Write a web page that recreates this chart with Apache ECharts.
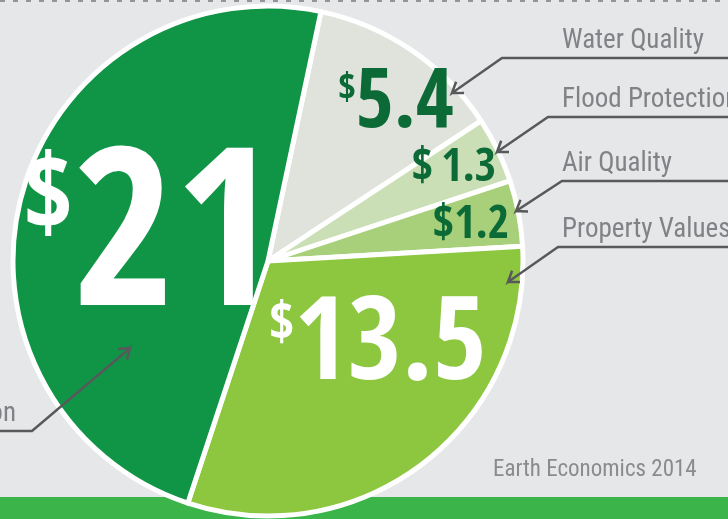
<!DOCTYPE html>
<html>
<head>
<meta charset="utf-8">
<script src="https://cdn.jsdelivr.net/npm/echarts@6/dist/echarts.min.js"></script>
<style>
  html, body { margin: 0; padding: 0; }
  #wrap {
    position: relative; width: 728px; height: 519px; overflow: hidden;
    background: linear-gradient(#e6e7e8 0, #e6e7e8 497px, #3bb44a 497px);
  }
  #dots {
    position: absolute; left: 0; top: 0; width: 728px; height: 2px;
    background: repeating-linear-gradient(90deg, #939598 0 5px, transparent 5px 13px);
  }
  #chart { position: absolute; left: 0; top: 0; width: 728px; height: 519px; }
</style>
</head>
<body>
<div id="wrap">
  <div id="dots"></div>
  <div id="chart"></div>
</div>
<script>
// 生态服务价值 (十亿美元), 顺时针从顶部开始
var categories = ["Water Quality", "Flood Protection", "Air Quality", "Property Values", "Recreation"];
var values = [5.4, 1.3, 1.2, 13.5, 21];
var sourceNote = "Earth Economics 2014";

var narrowBold = "'Open Sans Condensed', 'Roboto Condensed', sans-serif";
var narrow = "'Roboto Condensed', 'Open Sans Condensed', sans-serif";
var center = [268, 261];
var radius = 255;

// 数值标签中心
var valueLabelPos = [[396, 106], [454, 169], [471, 226], [378, 349], [150, 239]];
// 引线: 水平线的 y, 折点 x, 箭头方向
var callouts = [
  { lineY: 58, bendX: 502, dir: [-50, 35] },
  { lineY: 117, bendX: 548, dir: [-51, 35] },
  { lineY: 181, bendX: 562, dir: [-46, 30] },
  { lineY: 247, bendX: 558, dir: [-50, 35] },
  { lineY: 431, bendX: 32, dir: [98, -83] }
];

function valueText(p) {
  var v = String(p.value);
  if (p.dataIndex === 4) return "{bd|$}{bn|" + v + "}";
  if (p.dataIndex === 3) return "{cd|$}{cn|" + v + "}";
  if (p.dataIndex === 0) return "{dd|$}{dn|" + v + "}";
  if (p.dataIndex === 1) return "{sn|$}{gap|}{sn|" + v + "}";
  return "{sn|$" + v + "}";
}

function rotate(ux, uy, a) {
  return [ux * Math.cos(a) - uy * Math.sin(a), ux * Math.sin(a) + uy * Math.cos(a)];
}

function arrowLine(i) {
  var c = callouts[i];
  var bend = [c.bendX, c.lineY];
  var tip = [bend[0] + c.dir[0], bend[1] + c.dir[1]];
  var len = Math.sqrt(c.dir[0] * c.dir[0] + c.dir[1] * c.dir[1]);
  var ux = c.dir[0] / len, uy = c.dir[1] / len;
  var a = 35 * Math.PI / 180, w = 12;
  var r1 = rotate(ux, uy, a), r2 = rotate(ux, uy, -a);
  var w1 = [tip[0] - w * r1[0], tip[1] - w * r1[1]];
  var w2 = [tip[0] - w * r2[0], tip[1] - w * r2[1]];
  var end = [i === 4 ? -10 : 740, c.lineY];
  return [w1, tip, w2, tip, bend, end];
}

var pieData = categories.map(function (name, i) {
  return { name: name, value: values[i] };
});

var white = "#ffffff", dark = "#0b6a36";
var myChart = echarts.init(document.getElementById("chart"), null, { renderer: "canvas" });
myChart.setOption({
  animation: false,
  backgroundColor: "transparent",
  color: ["#dfe3dc", "#cadfb6", "#a8d07a", "#8dc63f", "#109446"],
  title: {
    text: sourceNote,
    left: 493,
    top: 457,
    padding: 0,
    textStyle: { color: "#8a8b8d", fontSize: 23, lineHeight: 26, fontWeight: "normal", fontFamily: narrow }
  },
  series: [
    {
      type: "pie",
      center: center,
      radius: radius,
      startAngle: 78,
      minAngle: 15,
      silent: true,
      z: 2,
      avoidLabelOverlap: false,
      itemStyle: { borderColor: white, borderWidth: 5 },
      label: {
        show: true,
        position: "inside",
        formatter: valueText,
        fontFamily: narrowBold,
        rich: {
          bd: { fontSize: 106, fontWeight: "bold", color: white, fontFamily: narrowBold, verticalAlign: "top", lineHeight: 42 },
          bn: { fontSize: 220, fontWeight: "bold", color: white, fontFamily: narrowBold, lineHeight: 180, padding: [18, 0, 0, 0] },
          cd: { fontSize: 54, fontWeight: "bold", color: white, fontFamily: narrowBold, verticalAlign: "top", lineHeight: 56 },
          cn: { fontSize: 116, fontWeight: "bold", color: white, fontFamily: narrowBold, lineHeight: 100 },
          dd: { fontSize: 38, fontWeight: "bold", color: dark, fontFamily: narrowBold, verticalAlign: "top", lineHeight: 47 },
          dn: { fontSize: 82, fontWeight: "bold", color: dark, fontFamily: narrowBold, lineHeight: 70 },
          sn: { fontSize: 46, fontWeight: "bold", color: dark, fontFamily: narrowBold, lineHeight: 44 },
          gap: { width: 8 }
        }
      },
      labelLine: { show: false },
      labelLayout: function (p) {
        var pos = valueLabelPos[p.dataIndex];
        return { x: pos[0], y: pos[1], align: "center", verticalAlign: "middle" };
      },
      data: pieData
    },
    {
      type: "pie",
      center: center,
      radius: radius,
      startAngle: 78,
      minAngle: 15,
      silent: true,
      z: 5,
      avoidLabelOverlap: false,
      itemStyle: { color: "transparent", borderWidth: 0 },
      label: {
        show: true,
        position: "outside",
        formatter: "{b}",
        color: "#808285",
        fontSize: 27,
        lineHeight: 28,
        fontFamily: narrow
      },
      labelLine: { show: true, length: 10, length2: 10, lineStyle: { color: "#58595b", width: 2.5 } },
      labelLayout: function (p) {
        var c = callouts[p.dataIndex];
        var left = p.dataIndex === 4;
        return {
          x: left ? 16 : 562,
          y: c.lineY - 3,
          align: left ? "right" : "left",
          verticalAlign: "bottom",
          labelLinePoints: arrowLine(p.dataIndex)
        };
      },
      data: pieData
    }
  ]
});
</script>
</body>
</html>
